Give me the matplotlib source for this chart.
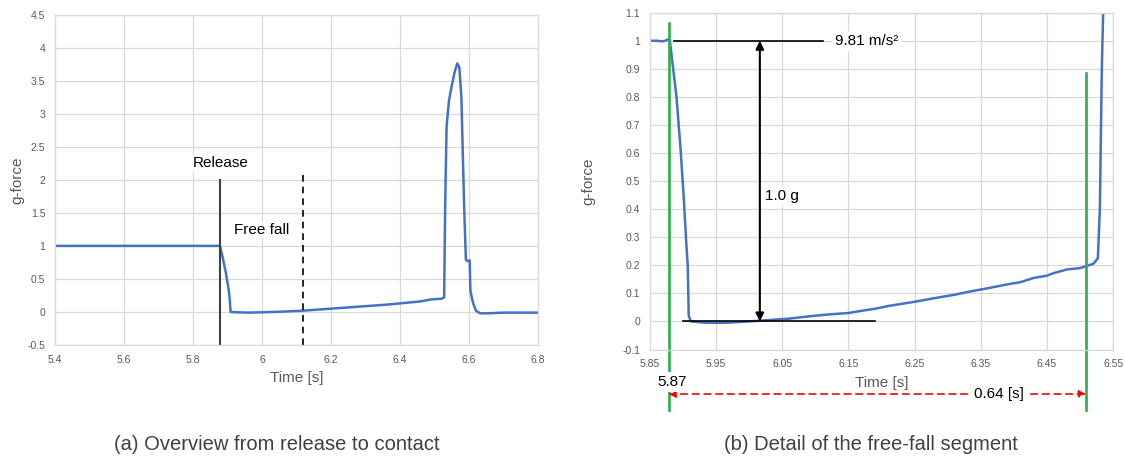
import numpy as np
import matplotlib
matplotlib.use('Agg')
import matplotlib.pyplot as plt
from matplotlib.ticker import MultipleLocator, FixedLocator, FuncFormatter

plt.rcParams['font.family'] = ['Liberation Sans', 'DejaVu Sans']

# (a) overview: time [s] vs g-force
t_a = [5.40, 5.60, 5.80, 5.878, 5.885, 5.895, 5.903, 5.906, 5.909, 5.93, 5.96, 6.00,
       6.06, 6.12, 6.20, 6.28, 6.36, 6.42, 6.46, 6.49, 6.52, 6.528, 6.531, 6.535,
       6.542, 6.550, 6.558, 6.566, 6.572, 6.578, 6.582, 6.586, 6.591, 6.596, 6.602,
       6.604, 6.608, 6.612, 6.620, 6.632, 6.658, 6.70, 6.80]
g_a = [1.00, 1.00, 1.00, 1.00, 0.85, 0.60, 0.35, 0.22, 0.00, -0.005, -0.01, -0.005,
       0.005, 0.02, 0.05, 0.08, 0.11, 0.14, 0.16, 0.19, 0.20, 0.22, 1.6, 2.80,
       3.20, 3.42, 3.62, 3.76, 3.70, 3.25, 2.40, 1.59, 0.79, 0.77, 0.78,
       0.33, 0.22, 0.135, 0.02, -0.02, -0.02, -0.01, -0.01]

# (b) detail of the free-fall segment
t_b = [5.85, 5.86, 5.868, 5.873, 5.877, 5.880, 5.884, 5.890, 5.896, 5.901, 5.905,
       5.907, 5.9085, 5.912, 5.93, 5.95, 5.97, 6.00, 6.03, 6.06, 6.09, 6.12, 6.15,
       6.17, 6.19, 6.21, 6.25, 6.28, 6.31, 6.33, 6.36, 6.39, 6.41, 6.43, 6.45, 6.46,
       6.48, 6.50, 6.51, 6.52, 6.527, 6.530, 6.533, 6.536]
g_b = [1.00, 1.00, 0.998, 1.00, 1.005, 1.00, 0.92, 0.80, 0.62, 0.44, 0.27,
       0.20, 0.02, 0.00, -0.004, -0.005, -0.004, 0.000, 0.005, 0.010, 0.018, 0.025, 0.030,
       0.038, 0.045, 0.055, 0.070, 0.083, 0.095, 0.105, 0.118, 0.132, 0.140, 0.155, 0.163, 0.172,
       0.185, 0.190, 0.198, 0.205, 0.225, 0.40, 0.90, 1.20]

xticks_b = [5.85, 5.95, 6.05, 6.15, 6.25, 6.35, 6.45, 6.55]

t_release = 5.878
t_ff_end = 6.12
t_contact = 6.509

blue = '#4472C4'
grid_c = '#d9d9d9'
tick_c = '#595959'


def fmt(v, pos):
    s = ('%.2f' % v).rstrip('0').rstrip('.')
    return '0' if s in ('-0', '') else s


def style(ax):
    ax.grid(True, color=grid_c, lw=0.9)
    ax.set_axisbelow(True)
    for sp in ax.spines.values():
        sp.set_color(grid_c)
        sp.set_linewidth(0.9)
    ax.tick_params(length=0, labelsize=7.5, labelcolor=tick_c, pad=7)
    ax.xaxis.set_major_formatter(FuncFormatter(fmt))
    ax.yaxis.set_major_formatter(FuncFormatter(fmt))


fig = plt.figure(figsize=(11.25, 4.62), dpi=100)

# ---------------- (a) ----------------
ax1 = fig.add_axes([0.0489, 0.2532, 0.4293, 0.7154])
ax1.plot(t_a, g_a, color=blue, lw=1.8)
ax1.set_xlim(5.4, 6.8)
ax1.set_ylim(-0.5, 4.5)
ax1.xaxis.set_major_locator(MultipleLocator(0.2))
ax1.yaxis.set_major_locator(MultipleLocator(0.5))
style(ax1)
ax1.plot([t_release, t_release], [-0.5, 2.0], color='#404040', lw=1.5)
ax1.plot([t_ff_end, t_ff_end], [-0.5, 2.14], color='black', lw=1.2, ls=(0, (4, 3)))
ax1.text(5.881, 2.25, 'Release', ha='center', va='center', fontsize=11,
         bbox=dict(fc='white', ec='none', pad=1))
ax1.text(6.0, 1.24, 'Free fall', ha='center', va='center', fontsize=11,
         bbox=dict(fc='white', ec='none', pad=1))
ax1.set_xlabel('Time [s]', fontsize=11, color=tick_c)
ax1.set_ylabel('g-force', fontsize=11, color=tick_c)
ax1.xaxis.set_label_coords(0.5, -0.079)
ax1.yaxis.set_label_coords(-0.063, 0.5)

# ---------------- (b) ----------------
ax2 = fig.add_axes([0.5778, 0.2435, 0.4116, 0.7290])
ax2.plot(t_b, g_b, color=blue, lw=1.8)
ax2.set_xlim(5.85, 6.55)
ax2.set_ylim(-0.1, 1.1)
ax2.xaxis.set_major_locator(FixedLocator(xticks_b))
ax2.yaxis.set_major_locator(MultipleLocator(0.1))
style(ax2)

# green markers for release and contact
ax2.plot([t_release, t_release], [1.062, -0.316], color='#2EAD4E', lw=1.9, clip_on=False)
ax2.plot([t_contact, t_contact], [0.884, -0.316], color='#2EAD4E', lw=1.9, clip_on=False)

# 1 g reference
ax2.plot([5.886, 6.112], [1.0, 1.0], color='black', lw=1.2)
ax2.plot([5.900, 6.190], [0.0, 0.0], color='black', lw=1.2)
ax2.annotate('', xy=(6.016, 0.0), xytext=(6.016, 1.0),
             arrowprops=dict(arrowstyle='<|-|>', color='black', lw=1.5,
                             mutation_scale=12, shrinkA=0, shrinkB=0))
ax2.text(6.177, 1.0, '9.81 m/s²', ha='center', va='center', fontsize=11,
         bbox=dict(fc='white', ec='none', pad=2))
ax2.text(6.05, 0.448, '1.0 g', ha='center', va='center', fontsize=11,
         bbox=dict(fc='white', ec='none', pad=2))

# duration arrow below the axis
ax2.annotate('', xy=(t_release, -0.2585), xytext=(t_contact, -0.2585),
             annotation_clip=False,
             arrowprops=dict(arrowstyle='<|-|>', color='red', lw=1.2, ls=(0, (4, 3)),
                             mutation_scale=10, shrinkA=0, shrinkB=0))
ax2.text(6.378, -0.2585, '0.64 [s]', ha='center', va='center', fontsize=11,
         bbox=dict(fc='white', ec='none', pad=3), clip_on=False)
ax2.text(5.883, -0.216, '5.87', ha='center', va='center', fontsize=11,
         bbox=dict(fc='white', ec='none', pad=2), clip_on=False)

ax2.set_xlabel('Time [s]', fontsize=11, color=tick_c)
ax2.set_ylabel('g-force', fontsize=11, color=tick_c)
ax2.xaxis.set_label_coords(0.5, -0.079)
ax2.yaxis.set_label_coords(-0.117, 0.5)

fig.text(277 / 1125, 1 - 445 / 462, '(a) Overview from release to contact',
         ha='center', va='center', fontsize=14.5, color='#404040')
fig.text(871 / 1125, 1 - 445 / 462, '(b) Detail of the free-fall segment',
         ha='center', va='center', fontsize=14.5, color='#404040')

fig.savefig('out.png', dpi=100)
